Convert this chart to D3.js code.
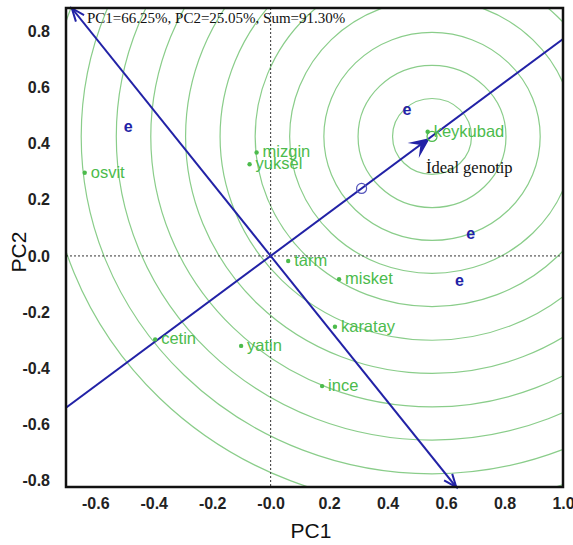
<!DOCTYPE html>
<html>
<head>
<meta charset="utf-8">
<script src="https://cdn.jsdelivr.net/npm/d3@7"></script>
<style>
  body { margin: 0; background: #fff; }
  svg { display: block; }
</style>
</head>
<body>
<svg id="chart" width="573" height="545"></svg>
<script>
"use strict";

// === Data ===
let genotypes = ["osvit", "mizgin", "yuksel", "tarm", "misket", "karatay", "ince", "cetin", "yatin", "keykubad"];
let genoPC1 = [-0.636, -0.048, -0.072, 0.060, 0.234, 0.220, 0.176, -0.395, -0.101, 0.537];
let genoPC2 = [0.296, 0.368, 0.326, -0.018, -0.083, -0.252, -0.463, -0.297, -0.320, 0.442];

let envLabels = ["e", "e", "e", "e"];
let envPC1 = [-0.487, 0.466, 0.684, 0.646];
let envPC2 = [0.457, 0.520, 0.077, -0.089];

let avgEnv = [0.311, 0.240];      // average environment (small blue circle)
let ideal = [0.552, 0.425];       // ideal genotype, centre of the rings
let ringRadii = [0.135, 0.253, 0.370, 0.487, 0.605, 0.725, 0.843, 0.962, 1.080, 1.200, 1.317];
let ordinateEndsPC1 = [-0.68, 0.635];

let xTicks = [-0.6, -0.4, -0.2, 0, 0.2, 0.4, 0.6, 0.8, 1.0];
let xTickLabels = ["-0.6", "-0.4", "-0.2", "-0.0", "0.2", "0.4", "0.6", "0.8", "1.0"];
let yTicks = [-0.8, -0.6, -0.4, -0.2, 0, 0.2, 0.4, 0.6, 0.8];
let yTickLabels = ["-0.8", "-0.6", "-0.4", "-0.2", "0.0", "0.2", "0.4", "0.6", "0.8"];

let title = "PC1=66.25%, PC2=25.05%, Sum=91.30%";
let idealLabel = "İdeal genotip";

// === Setup ===
let svg = d3.select("#chart");
let pLeft = 66, pRight = 563, pTop = 8, pBottom = 487;
let x = d3.scaleLinear().domain([-0.7, 1.0]).range([pLeft, pRight]);
let y = d3.scaleLinear().domain([-0.822, 0.882]).range([pBottom, pTop]);

let green = "#4cbb4c";
let ringGreen = "#8acd8a";
let blue = "#2222a6";
let sans = "'Liberation Sans', Arial, sans-serif";
let serif = "'Liberation Serif', 'Times New Roman', serif";

svg.append("rect").attr("width", 573).attr("height", 545).attr("fill", "#fff");

svg.append("clipPath").attr("id", "plotClip")
  .append("rect")
  .attr("x", pLeft).attr("y", pTop)
  .attr("width", pRight - pLeft).attr("height", pBottom - pTop);

let plot = svg.append("g").attr("clip-path", "url(#plotClip)");

// === Concentric rings round the ideal genotype ===
plot.selectAll("ellipse.ring")
  .data(ringRadii)
  .enter().append("ellipse")
  .attr("class", "ring")
  .attr("cx", x(ideal[0]))
  .attr("cy", y(ideal[1]))
  .attr("rx", r => x(r) - x(0))
  .attr("ry", r => y(0) - y(r))
  .attr("fill", "none")
  .attr("stroke", ringGreen)
  .attr("stroke-width", 1.2);

// === Dotted axes through origin ===
plot.append("line")
  .attr("x1", x(0)).attr("x2", x(0)).attr("y1", pTop).attr("y2", pBottom)
  .attr("stroke", "#333").attr("stroke-width", 1).attr("stroke-dasharray", "2,2");
plot.append("line")
  .attr("x1", pLeft).attr("x2", pRight).attr("y1", y(0)).attr("y2", y(0))
  .attr("stroke", "#333").attr("stroke-width", 1).attr("stroke-dasharray", "2,2");

// === ATC abscissa (through origin and average environment) ===
let slope = avgEnv[1] / avgEnv[0];
plot.append("line")
  .attr("x1", x(-0.7)).attr("y1", y(-0.7 * slope))
  .attr("x2", x(1.0)).attr("y2", y(1.0 * slope))
  .attr("stroke", blue).attr("stroke-width", 2);

// === ATC ordinate (perpendicular) ===
let pslope = -1 / slope;
let o1 = [x(ordinateEndsPC1[0]), y(ordinateEndsPC1[0] * pslope)];
let o2 = [x(ordinateEndsPC1[1]), y(ordinateEndsPC1[1] * pslope)];
plot.append("line")
  .attr("x1", o1[0]).attr("y1", o1[1]).attr("x2", o2[0]).attr("y2", o2[1])
  .attr("stroke", blue).attr("stroke-width", 2);

// open V arrowheads at both ends
function openArrow(tip, from, len, ang) {
  let a = Math.atan2(tip[1] - from[1], tip[0] - from[0]);
  let p = d3.path();
  p.moveTo(tip[0] - len * Math.cos(a - ang), tip[1] - len * Math.sin(a - ang));
  p.lineTo(tip[0], tip[1]);
  p.lineTo(tip[0] - len * Math.cos(a + ang), tip[1] - len * Math.sin(a + ang));
  svg.append("path").attr("d", p.toString())
    .attr("fill", "none").attr("stroke", blue).attr("stroke-width", 2);
}
openArrow(o1, o2, 14, 0.38);
openArrow(o2, o1, 14, 0.38);

// stealth arrowhead on the abscissa pointing at the ideal genotype
(function () {
  let tip = [x(ideal[0]) - 2, y(ideal[1]) + 1.5];
  let a = Math.atan2(y(slope) - y(0), x(1) - x(0));
  let len = 23, ang = 0.42, back = 12;
  let p = d3.path();
  p.moveTo(tip[0], tip[1]);
  p.lineTo(tip[0] - len * Math.cos(a - ang), tip[1] - len * Math.sin(a - ang));
  p.lineTo(tip[0] - back * Math.cos(a), tip[1] - back * Math.sin(a));
  p.lineTo(tip[0] - len * Math.cos(a + ang), tip[1] - len * Math.sin(a + ang));
  p.closePath();
  svg.append("path").attr("d", p.toString()).attr("fill", blue);
})();

// small circles: average environment (blue) and ideal genotype (green)
svg.append("circle")
  .attr("cx", x(avgEnv[0])).attr("cy", y(avgEnv[1])).attr("r", 5)
  .attr("fill", "none").attr("stroke", "#5555bb").attr("stroke-width", 1.2);
svg.append("circle")
  .attr("cx", x(ideal[0])).attr("cy", y(ideal[1])).attr("r", 5)
  .attr("fill", "none").attr("stroke", green).attr("stroke-width", 1.2);

// === Genotype points ===
let genoData = genotypes.map((g, i) => ({ name: g, pc1: genoPC1[i], pc2: genoPC2[i] }));
svg.selectAll("circle.geno")
  .data(genoData)
  .enter().append("circle")
  .attr("class", "geno")
  .attr("cx", d => x(d.pc1)).attr("cy", d => y(d.pc2)).attr("r", 2.2)
  .attr("fill", green);
svg.selectAll("text.geno")
  .data(genoData)
  .enter().append("text")
  .attr("class", "geno")
  .attr("x", d => x(d.pc1) + 6).attr("y", d => y(d.pc2) + 5)
  .attr("font-family", sans).attr("font-size", 16.5)
  .attr("fill", green)
  .text(d => d.name);

// === Environment labels ===
svg.selectAll("text.env")
  .data(envLabels.map((e, i) => ({ name: e, pc1: envPC1[i], pc2: envPC2[i] })))
  .enter().append("text")
  .attr("class", "env")
  .attr("x", d => x(d.pc1)).attr("y", d => y(d.pc2) + 5)
  .attr("text-anchor", "middle")
  .attr("font-family", sans).attr("font-size", 16).attr("font-weight", "bold")
  .attr("fill", blue)
  .text(d => d.name);

// === Texts ===
svg.append("text")
  .attr("x", 87).attr("y", 23)
  .attr("font-family", serif).attr("font-size", 15)
  .attr("fill", "#111")
  .text(title);
svg.append("text")
  .attr("x", x(ideal[0]) - 6).attr("y", y(ideal[1]) + 37)
  .attr("font-family", serif).attr("font-size", 16.5)
  .attr("fill", "#111")
  .text(idealLabel);

// === Axes ===
let xAxis = d3.axisBottom(x).tickValues(xTicks).tickSize(0).tickPadding(11)
  .tickFormat((d, i) => xTickLabels[i]);
let yAxis = d3.axisLeft(y).tickValues(yTicks).tickSize(0).tickPadding(16)
  .tickFormat((d, i) => yTickLabels[i]);

let gx = svg.append("g").attr("transform", "translate(0," + pBottom + ")").call(xAxis);
let gy = svg.append("g").attr("transform", "translate(" + pLeft + ",0)").call(yAxis);
[gx, gy].forEach(g => {
  g.select(".domain").remove();
  g.selectAll("text")
    .attr("font-family", sans).attr("font-size", 16).attr("font-weight", "bold")
    .attr("fill", "#222");
});

// frame
svg.append("rect")
  .attr("x", pLeft).attr("y", pTop)
  .attr("width", pRight - pLeft).attr("height", pBottom - pTop)
  .attr("fill", "none").attr("stroke", "#111").attr("stroke-width", 2.5);

// axis titles
svg.append("text")
  .attr("x", 311).attr("y", 538)
  .attr("text-anchor", "middle")
  .attr("font-family", sans).attr("font-size", 21)
  .attr("fill", "#111")
  .text("PC1");
svg.append("text")
  .attr("transform", "translate(26,252) rotate(-90)")
  .attr("text-anchor", "middle")
  .attr("font-family", sans).attr("font-size", 21)
  .attr("fill", "#111")
  .text("PC2");
</script>
</body>
</html>
